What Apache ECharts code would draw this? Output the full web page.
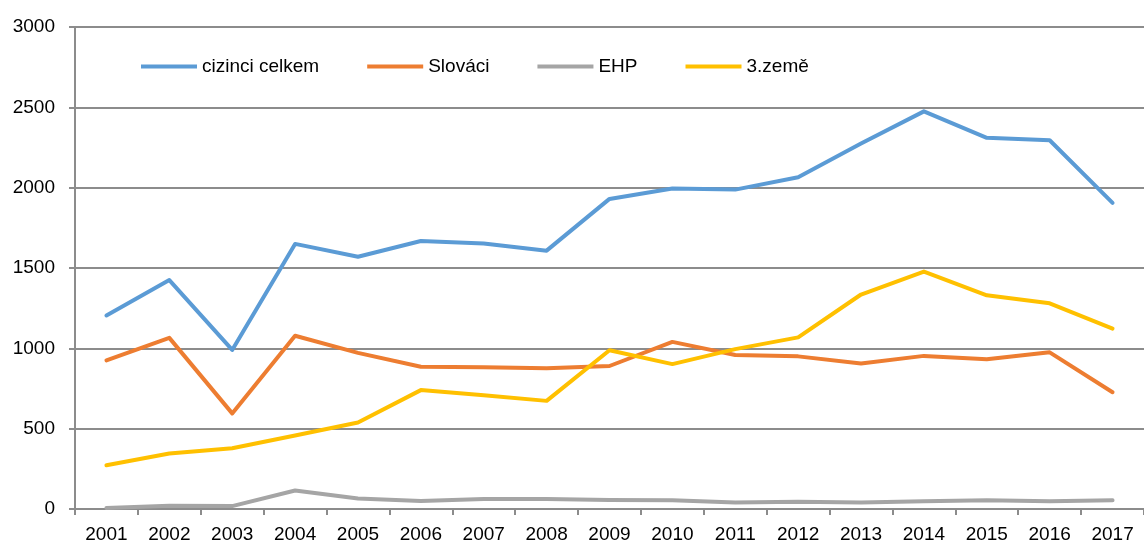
<!DOCTYPE html>
<html>
<head>
<meta charset="utf-8">
<script src="https://cdn.jsdelivr.net/npm/echarts@6/dist/echarts.min.js"></script>
<style>
  html, body { margin: 0; padding: 0; background: #fff; }
  #chart { width: 1144px; height: 545px; }
</style>
</head>
<body>
<div id="chart"></div>
<script>
// data
const years = ['2001', '2002', '2003', '2004', '2005', '2006', '2007', '2008', '2009',
  '2010', '2011', '2012', '2013', '2014', '2015', '2016', '2017'];
const cizinciCelkem = [1205, 1425, 990, 1650, 1570, 1668, 1652, 1608, 1930, 1995, 1988, 2065, 2275, 2475, 2310, 2295, 1905];
const slovaci = [925, 1065, 595, 1078, 972, 885, 882, 876, 890, 1040, 958, 950, 905, 953, 932, 975, 727];
const ehp = [6, 20, 18, 115, 65, 50, 62, 62, 56, 55, 40, 45, 40, 48, 55, 48, 55];
const tretiZeme = [272, 345, 378, 457, 538, 740, 708, 673, 988, 902, 995, 1068, 1335, 1478, 1330, 1280, 1123];

const seriesNames = ['cizinci celkem', 'Slováci', 'EHP', '3.země'];
const seriesColors = ['#5b9bd5', '#ed7d31', '#a5a5a5', '#ffc000'];
const seriesData = [cizinciCelkem, slovaci, ehp, tretiZeme];

const chart = echarts.init(document.getElementById('chart'));
const font = 'Liberation Sans, Arial, sans-serif';
const axisGray = '#8c8c8c';

const option = {
  animation: false,
  textStyle: { fontFamily: font },
  grid: { left: 75, top: 27, width: 1081, height: 482 },
  legend: {
    top: 52,
    left: 136,
    itemGap: 48,
    itemWidth: 56,
    itemHeight: 4,
    icon: 'rect',
    textStyle: { fontSize: 19, color: '#000', fontFamily: font },
    data: seriesNames
  },
  xAxis: {
    type: 'category',
    data: years,
    boundaryGap: true,
    axisLine: { lineStyle: { color: axisGray, width: 2 } },
    axisTick: { show: true, length: 6, lineStyle: { color: axisGray, width: 2 } },
    axisLabel: { fontSize: 19, color: '#000', margin: 16, interval: 0 }
  },
  yAxis: {
    type: 'value',
    min: 0,
    max: 3000,
    interval: 500,
    axisLine: { show: true, lineStyle: { color: axisGray, width: 2 } },
    axisTick: { show: true, length: 6, lineStyle: { color: axisGray, width: 2 } },
    axisLabel: { fontSize: 19, color: '#000', margin: 20, formatter: v => String(v) },
    splitLine: { lineStyle: { color: axisGray, width: 2 } }
  },
  series: seriesNames.map((name, i) => ({
    name: name,
    type: 'line',
    data: seriesData[i],
    symbol: 'none',
    color: seriesColors[i],
    lineStyle: { width: 4, cap: 'round', join: 'round' }
  }))
};

chart.setOption(option);
</script>
</body>
</html>
